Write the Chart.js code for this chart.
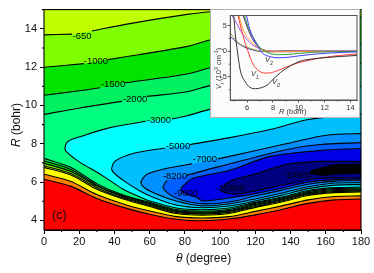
<!DOCTYPE html>
<html>
<head>
<meta charset="utf-8">
<script src="https://cdn.jsdelivr.net/npm/chart.js@4"></script>
<style>
  html, body { margin: 0; padding: 0; background: #fff; }
  #page { position: relative; width: 374px; height: 273px; overflow: hidden; font-family: "Liberation Sans", Arial, sans-serif; color: #111; }
  #main { position: absolute; left: 0; top: 0; }
  #insetBox { position: absolute; left: 211px; top: 10px; width: 148px; height: 107px; background: #fcfcfc; box-shadow: 0 0 0 1px #b0b0b0; }
  .txt { position: absolute; white-space: nowrap; }
  .small { font-size: 7.5px; color: #333; }
  sub, sup { font-size: 70%; line-height: 0; }
</style>
</head>
<body>
<div id="page">
  <canvas id="main" width="374" height="273"></canvas>
  <div class="txt" style="left:176px;top:251px;font-size:12px"><i>θ</i> (degree)</div>
  <div class="txt" style="left:-6px;top:118px;font-size:12px;transform:rotate(-90deg)"><i>R</i> (bohr)</div>
  <div class="txt" style="left:52px;top:208px;font-size:12.5px">(c)</div>
  <div id="insetBox">
    <canvas id="inset" width="148" height="107"></canvas>
    <div class="txt small" style="left:68px;top:97px"><i>R</i> (bohr)</div>
    <div class="txt small" style="left:-13px;top:54px;transform:rotate(-90deg)"><i>V<sub>i</sub></i> (10<sup>3</sup> cm<sup>-1</sup>)</div>
    <div class="txt small" style="left:61px;top:67px"><i>V<sub>0</sub></i></div>
    <div class="txt small" style="left:40px;top:59px"><i>V<sub>1</sub></i></div>
    <div class="txt small" style="left:54px;top:45px"><i>V<sub>2</sub></i></div>
  </div>
</div>
<script>
// contour lines as [theta, R], null breaks the line (label gap or left edge)
const contour650 = [[180,5.53],[165,5.50],[150,5.35],[135,5.01],[120,4.73],[105,4.42],[90,4.33],[75,4.42],[60,4.78],[45,5.17],[30,5.71],[15,6.46],[0,6.85],null,
  [0,13.68],[15.9,13.72],null,[27.3,13.89],[48.8,14.27],[81.2,14.75],[95.4,14.89],[139,15.01],[180,15.25]];
const contour1000 = [[180,5.58],[165,5.56],[150,5.40],[135,5.07],[120,4.78],[105,4.47],[90,4.38],[75,4.47],[60,4.83],[45,5.22],[30,5.79],[15,6.56],[0,6.98],null,
  [0,11.99],[22.7,12.18],null,[36.3,12.39],[54.5,12.66],[81.2,13.08],[95.4,13.44],[139.7,14.16],[180,14.63]];
const contour1500 = [[180,5.63],[165,5.61],[150,5.45],[135,5.12],[120,4.83],[105,4.52],[90,4.43],[75,4.52],[60,4.89],[45,5.27],[30,5.84],[15,6.67],[0,7.11],null,
  [0,10.53],[14.8,10.70],[31.8,10.92],null,[46,11.18],[81.2,11.64],[95.4,11.99],[139.7,12.77],[180,13.18]];
const contour2000 = [[180,5.69],[165,5.66],[150,5.51],[135,5.17],[120,4.89],[105,4.57],[90,4.48],[75,4.57],[60,4.94],[45,5.32],[30,5.92],[15,6.77],[0,7.24],null,
  [0,9.53],[20.4,9.87],[44.3,10.21],null,[58.5,10.47],[81.2,10.71],[95.4,11.06],[139.7,11.78],[180,12.2]];
const contour3000 = [[180,5.74],[165.2,5.71],[149.9,5.56],[135.2,5.22],[119.8,4.94],[105.1,4.65],[89.7,4.56],[75,4.65],[60.2,5.01],[54.5,5.22],[44.9,5.63],[35.8,6.18],[30.1,6.51],[20.4,7.03],[13.1,7.55],[11.9,7.75],[13.6,8.12],[21.6,8.40],[37.5,8.84],[57.9,9.17],null,
  [72.7,9.30],[81.2,9.46],[95.4,9.82],[139.7,10.54],[180,11.0]];
const contour5000 = [[180,5.87],[165.2,5.84],[149.9,5.66],[135.2,5.32],[119.8,5.01],[105.1,4.75],[89.7,4.66],[75,4.80],[60.2,5.27],[54.5,5.53],[44.9,6.10],[38.6,6.62],[40.3,7.08],[50.5,7.49],[68.7,7.78],null,
  [82.9,7.96],[105.6,8.32],[128.3,8.74],[151,9.28],[180,9.56]];
const contour7000 = [[180,5.97],[165.2,5.95],[149.9,5.76],[135.2,5.43],[119.8,5.12],[105.1,4.86],[89.7,4.76],[75,5.01],[60.2,5.53],[55.1,5.95],[58.5,6.41],[69.8,6.72],[84,6.95],null,
  [98.8,7.21],[138,8.01],[156.7,8.39],[166.4,8.50],[180,8.53]];
const contour8200 = [[180,6.07],[165.2,6.05],[149.9,5.89],[135.2,5.58],[119.8,5.27],[105.1,4.96],[89.7,4.87],[75,5.17],[67.6,5.69],[69.8,6.10],null,
  [81.2,6.36],[99.9,6.82],[138,7.70],[156.7,7.96],[180,8.06]];
const contour9000 = [[180,6.15],[165.2,6.13],[149.9,6.0],[135.2,5.69],[119.8,5.40],[105.1,5.17],[89.7,5.01],[87.4,5.17],[80.6,5.38],[77.8,5.58],[78.9,5.79],[84.6,6.20],[105.6,6.62],[128.3,7.34],[156.7,7.65],[180,7.75]];
const contour10500 = [[180,6.20],[156.7,6.20],[138,5.89],[119.3,5.53],[114.1,5.43],[106.8,5.38],[101.1,5.53],[101.6,5.79],[106.8,6.10],[119.3,6.41],[138,6.93],[156.7,7.08],[180,7.08]];
const contour10900 = [[180,6.46],[168.1,6.44],[156.7,6.36],[151,6.51],[156.7,6.72],[166.4,6.90],[180,6.93]];
const wallYellow = [[0,6.77],[15,6.38],[30,5.63],[45,5.12],[60,4.73],[75,4.36],[90,4.27],[105,4.36],[120,4.68],[135,4.96],[150,5.30],[165,5.45],[180,5.48],null,[180,3],[0,3]];
const wallOrange = [[0,6.41],[15,6.04],[30,5.35],[45,4.86],[60,4.49],[75,4.20],[90,4.13],[105,4.20],[120,4.47],[135,4.76],[150,5.07],[165,5.25],[180,5.28],null,[180,3],[0,3]];
const wallRed = [[0,6.15],[15,5.79],[30,5.14],[45,4.68],[60,4.32],[75,4.06],[90,3.98],[105,4.07],[120,4.29],[135,4.57],[150,4.89],[165,5.07],[180,5.12],null,[180,3],[0,3]];

const contourLines = [contour650, contour1000, contour1500, contour2000, contour3000, contour5000, contour7000, contour8200, contour9000, contour10500, contour10900, wallYellow, wallOrange, wallRed];
const bandColors = ["#80ff00", "#00e400", "#00f060", "#00ff80", "#00ffff", "#00bfff", "#0090ff", "#0060ff", "#0000e6", "#000080", "#000000", "#ffff00", "#ff8000", "#ff0000"];
const topColor = "#c0ff00";

const labelText = ["-650", "-1000", "-1500", "-2000", "-3000", "-5000", "-7000", "-8200", "-9000", "-10500", "-10900"];
const labelTheta = [21.6, 29.5, 39.2, 51.7, 65.3, 76.1, 91.4, 74.4, 80.6, 105.6, 143.7];
const labelR = [13.62, 12.30, 11.11, 10.29, 9.22, 7.86, 7.18, 6.31, 5.43, 5.69, 6.36];

const thetaTicks = [0, 20, 40, 60, 80, 100, 120, 140, 160, 180];
const thetaMinor = [10, 30, 50, 70, 90, 110, 130, 150, 170];
const rTicks = [4, 6, 8, 10, 12, 14];
const rMinor = [5, 7, 9, 11, 13, 15];

// inset curves
const v0R = [4.97,5.09,5.25,5.48,5.87,6.2,6.65,7.1,7.55,8.0,8.6,9.3,10.15,11,12.2,13.2,14.5];
const v0 = [7,3.2,0,-3.8,-6.0,-7,-7.3,-7.1,-6.6,-5.5,-4.1,-2.9,-1.9,-1.5,-1.2,-1,-0.8];
const v1R = [5.3,5.6,6.07,6.46,6.9,7.39,7.9,8.32,9.0,9.87,10.7,11.65,13.2,14.5];
const v1 = [7,3.8,0,-2.5,-3.8,-4.25,-4.15,-3.8,-3.1,-2.3,-1.8,-1.3,-0.8,-0.5];
const v2R = [5.95,6.2,6.5,6.85,7.17,7.8,8.4,9.2,10.1,11,12.2,14.5];
const v2 = [7,4.4,2.5,0.9,-0.3,-1.05,-1.25,-1.15,-0.85,-0.6,-0.35,-0.1];
const v3R = [5.8,6.1,6.46,7,7.4,7.8,8.4,9.2,10,11,12.5,14.5];
const v3 = [7,4.6,2.8,0.7,0,-0.45,-0.65,-0.6,-0.4,-0.2,-0.08,-0.02];
const v4R = [5.37,5.7,6.4,7.15,7.8,8.6,10,14.5];
const v4 = [7,4.2,1.7,0.35,0.1,0,0,0];
const v5R = [4.83,5.14,5.6,6.4,7.15,8,14.5];
const v5 = [7,5.7,3.6,1.3,0.4,0,0];
const v6R = [4.7,5.3,6.07,7.15,8,14.5];
const v6 = [3.6,1.7,0.75,0,-0.1,0];
const v7R = [4.7,5.2,5.6,6,6.5,7,8,14.5];
const v7 = [2.9,1.8,1.1,0.6,0.25,0,-0.05,0];
const v8R = [5.7,6,6.4,7,7.6,8.2,9,14.5];
const v8 = [7,4.8,2.5,0.6,0.1,0.05,0.1,0.05];
const insetColors = ["#333333", "#ff3b3b", "#3d3dff", "#2f9a3f", "#ff9a30", "#a050f0", "#a0a040", "#3030b0", "#502060"];
const insetR = [v0R, v1R, v2R, v3R, v4R, v5R, v6R, v7R, v8R];
const insetV = [v0, v1, v2, v3, v4, v5, v6, v7, v8];

const insetXTicks = [6, 8, 10, 12, 14];
const insetXMinor = [5, 7, 9, 11, 13];
const insetYTicks = [-5, 0, 5];
const insetYMinor = [-7.5, -2.5, 2.5];

const fillBands = {
  id: "fillBands",
  beforeDatasetsDraw(chart) {
    const ctx = chart.ctx, a = chart.chartArea;
    ctx.save();
    ctx.beginPath();
    ctx.rect(a.left, a.top, a.width, a.height);
    ctx.clip();
    ctx.fillStyle = topColor;
    ctx.fillRect(a.left, a.top, a.width, a.height);
    chart.data.datasets.forEach((ds, i) => {
      const pts = chart.getDatasetMeta(i).data;
      ctx.beginPath();
      let prev = null;
      pts.forEach((p) => {
        if (p.skip) { prev = null; return; }
        if (prev && prev.cp2x !== undefined) {
          ctx.bezierCurveTo(prev.cp2x, prev.cp2y, p.cp1x, p.cp1y, p.x, p.y);
        } else {
          ctx.lineTo(p.x, p.y);
        }
        prev = p;
      });
      ctx.closePath();
      ctx.fillStyle = bandColors[i];
      ctx.fill();
    });
    ctx.restore();
  },
  afterDatasetsDraw(chart) {
    const ctx = chart.ctx, x = chart.scales.x, y = chart.scales.y;
    ctx.save();
    ctx.font = "9.5px 'Liberation Sans'";
    ctx.textAlign = "center";
    ctx.textBaseline = "middle";
    ctx.fillStyle = "#000";
    labelText.forEach((t, i) => {
      ctx.fillText(t, x.getPixelForValue(labelTheta[i]), y.getPixelForValue(labelR[i]));
    });
    ctx.restore();
  }
};

// frame and the short ticks chart.js has no option for
const frameAndMinor = {
  id: "frameAndMinor",
  afterDraw(chart, args, opts) {
    const ctx = chart.ctx, a = chart.chartArea, x = chart.scales.x, y = chart.scales.y;
    ctx.save();
    ctx.strokeStyle = opts.color;
    ctx.lineWidth = opts.width;
    ctx.strokeRect(a.left, a.top, a.width, a.height);
    ctx.beginPath();
    opts.xMinor.forEach((v) => {
      const px = x.getPixelForValue(v);
      ctx.moveTo(px, a.bottom);
      ctx.lineTo(px, a.bottom + opts.len);
    });
    opts.yMinor.forEach((v) => {
      const py = y.getPixelForValue(v);
      ctx.moveTo(a.left, py);
      ctx.lineTo(a.left - opts.len, py);
    });
    ctx.stroke();
    ctx.restore();
  }
};

new Chart(document.getElementById("main"), {
  type: "scatter",
  data: {
    datasets: contourLines.map((line) => ({
      data: line.map((p) => (p ? { x: p[0], y: p[1] } : { x: null, y: null })),
      showLine: true,
      fill: false,
      tension: 0.3,
      borderColor: "#000",
      borderWidth: 1.1,
      pointRadius: 0
    }))
  },
  options: {
    responsive: false,
    animation: false,
    devicePixelRatio: 1,
    layout: { padding: { left: 0, top: 7.5, right: 13, bottom: 0 } },
    plugins: {
      legend: { display: false },
      tooltip: { enabled: false },
      frameAndMinor: { color: "#000", width: 1.1, len: 2, xMinor: thetaMinor, yMinor: rMinor }
    },
    scales: {
      x: {
        type: "linear", min: 0, max: 180,
        afterBuildTicks(s) { s.ticks = thetaTicks.map((v) => ({ value: v })); },
        afterFit(s) { s.height = 43; },
        grid: { drawOnChartArea: false, tickLength: 4, tickColor: "#000" },
        border: { color: "#000", width: 1 },
        ticks: { maxRotation: 0, autoSkip: false, padding: 1, color: "#111", font: { family: "Liberation Sans", size: 11 } }
      },
      y: {
        type: "linear", min: 3.5, max: 15,
        afterBuildTicks(s) { s.ticks = rTicks.map((v) => ({ value: v })); },
        afterFit(s) { s.width = 44; },
        grid: { drawOnChartArea: false, tickLength: 4, tickColor: "#000" },
        border: { color: "#000", width: 1 },
        ticks: { autoSkip: false, padding: 3, color: "#111", font: { family: "Liberation Sans", size: 11 } }
      }
    }
  },
  plugins: [fillBands, frameAndMinor]
});

new Chart(document.getElementById("inset"), {
  type: "scatter",
  data: {
    datasets: insetR.map((rs, i) => ({
      data: rs.map((r, j) => ({ x: r, y: insetV[i][j] })),
      showLine: true,
      fill: false,
      cubicInterpolationMode: "monotone",
      borderColor: insetColors[i],
      borderWidth: 1,
      pointRadius: 0
    }))
  },
  options: {
    responsive: false,
    animation: false,
    devicePixelRatio: 1,
    layout: { padding: { left: 0, top: 2.7, right: 2, bottom: 0 } },
    plugins: {
      legend: { display: false },
      tooltip: { enabled: false },
      frameAndMinor: { color: "#555", width: 1, len: 1.5, xMinor: insetXMinor, yMinor: insetYMinor }
    },
    scales: {
      x: {
        type: "linear", min: 4.7, max: 14.5,
        afterBuildTicks(s) { s.ticks = insetXTicks.map((v) => ({ value: v })); },
        afterFit(s) { s.height = 17; },
        grid: { drawOnChartArea: false, tickLength: 2.5, tickColor: "#555" },
        border: { color: "#555", width: 1 },
        ticks: { maxRotation: 0, autoSkip: false, padding: 1, color: "#333", font: { family: "Liberation Sans", size: 7.5 } }
      },
      y: {
        type: "linear", min: -9.5, max: 7,
        afterBuildTicks(s) { s.ticks = insetYTicks.map((v) => ({ value: v })); },
        afterFit(s) { s.width = 19.3; },
        grid: { drawOnChartArea: false, tickLength: 2.5, tickColor: "#555" },
        border: { color: "#555", width: 1 },
        ticks: { autoSkip: false, padding: 1, color: "#333", font: { family: "Liberation Sans", size: 7.5 } }
      }
    }
  },
  plugins: [frameAndMinor]
});
</script>
</body>
</html>
